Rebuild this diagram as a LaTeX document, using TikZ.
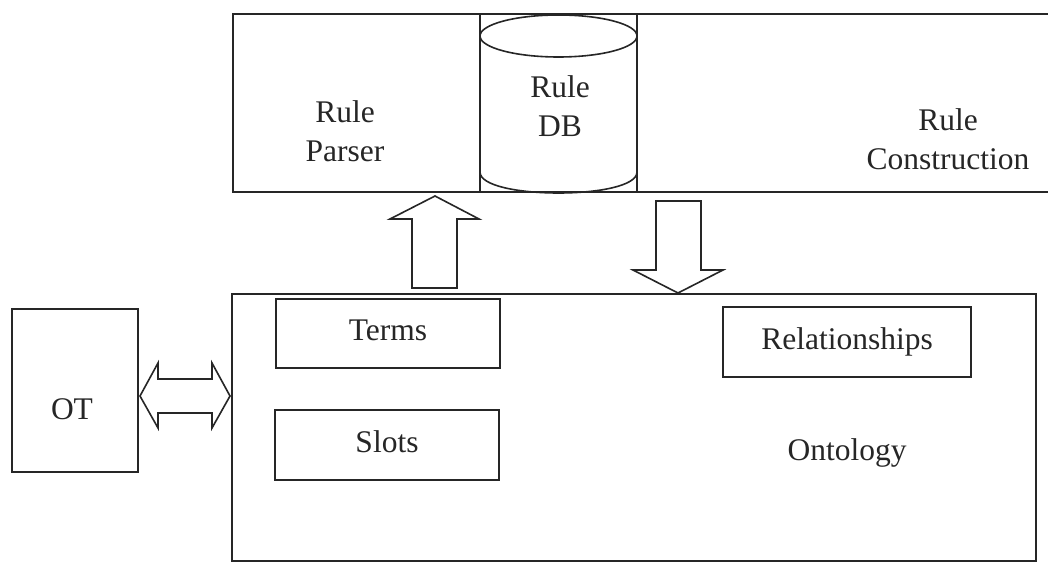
\documentclass[tikz,border=0pt]{standalone}
\usepackage{fontspec}
\setmainfont{Liberation Serif}
\definecolor{ink}{RGB}{38,38,38}
\begin{document}
\begin{tikzpicture}[x=1pt,y=-1pt,
  every node/.style={font=\fontsize{31.5}{39}\selectfont, text=ink},
  line/.style={draw=ink, line width=1.6pt},
  panel/.style={line, rectangle, inner sep=0pt},
  item/.style={panel, text height=21pt, text depth=7pt},
  blockarrow/.style={line, fill=white, line join=miter}]

\useasboundingbox (0,0) rectangle (1048,567);
\fill[white] (0,0) rectangle (1048,567);
\clip (0,0) rectangle (1048,567);

% rule subsystem: parser | database column | construction
\node[panel, minimum width=247pt, minimum height=178pt] (parser) at (356.5,103) {};
\node[panel, minimum width=157pt, minimum height=178pt] (dbcol) at (558.5,103) {};
\node[panel, minimum width=433pt, minimum height=178pt] (construct) at (853.5,103) {};

% rule database drawn as a cylinder filling the middle column
\draw[line] (558.5,36) ellipse [x radius=78.5pt, y radius=21pt];
\draw[line] (480,36) -- (480,172) .. controls (480,200) and (637,200) .. (637,172) -- (637,36);

\node[align=center] (parsertext) at (345,131) {Rule\\Parser};
\node[align=center] (dbtext) at (560,106) {Rule\\DB};
\node[align=center] (constructtext) at (948,139) {Rule\\Construction};

% ontology and its parts
\node[panel, minimum width=804pt, minimum height=267pt] (onto) at (634,427.5) {};
\node[item, minimum width=224pt, minimum height=69pt] (terms) at (388,333.5) {Terms};
\node[item, minimum width=224pt, minimum height=70pt] (slots) at (387,445) {Slots};
\node[item, minimum width=248pt, minimum height=70pt] (rel) at (847,342) {Relationships};
\node[anchor=base] (ontolabel) at (847,460) {Ontology};

% ontology tool
\node[panel, minimum width=126pt, minimum height=163pt] (ot) at (75,390.5) {};
\node[anchor=base] (otlabel) at (72,419) {OT};

% block arrows between the parts
\draw[blockarrow] (412,288) -- (412,219) -- (390,219) -- (435,196) -- (479,219)
  -- (457,219) -- (457,288) -- cycle;
\draw[blockarrow] (656,201) -- (656,270) -- (633,270) -- (678,293) -- (723,270)
  -- (701,270) -- (701,201) -- cycle;
\draw[blockarrow] (140,396) -- (158,363) -- (158,379) -- (212,379) -- (212,363)
  -- (230,396) -- (212,428) -- (212,413) -- (158,413) -- (158,428) -- cycle;
\end{tikzpicture}
\end{document}
